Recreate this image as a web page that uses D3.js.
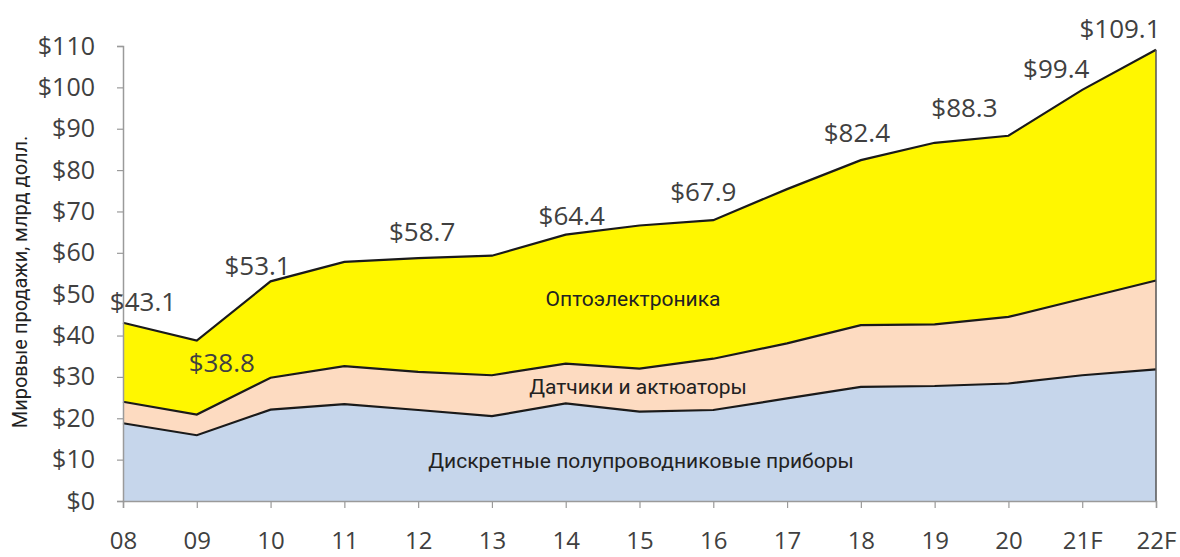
<!DOCTYPE html>
<html><head><meta charset="utf-8">
<script src="https://cdn.jsdelivr.net/npm/d3@7"></script>
<style>body{margin:0;background:#fff}svg{display:block}</style>
</head><body>
<svg id="c" width="1180" height="557"></svg>
<script>
const categories = ["08","09","10","11","12","13","14","15","16","17","18","19","20","21F","22F"];
const discrete = [18.8,15.9,22.1,23.4,22.0,20.5,23.6,21.6,22.0,24.8,27.6,27.8,28.4,30.4,31.8];
const sensors  = [5.2,5.0,7.7,9.2,9.2,9.9,9.6,10.4,12.4,13.3,14.9,14.9,16.1,18.5,21.5];
const totals   = [43.1,38.8,53.1,57.8,58.7,59.3,64.4,66.6,67.9,75.4,82.4,86.6,88.3,99.4,109.1];
const optoelectronics = totals.map((t,i)=>+(t - discrete[i] - sensors[i]).toFixed(1));
const labelledCategories = ["08","09","10","12","14","16","18","20","21F","22F"];
const yTicks = [0,10,20,30,40,50,60,70,80,90,100,110];
const seriesNames = ["Дискретные полупроводниковые приборы","Датчики и актюаторы","Оптоэлектроника"];
const yTitle = "Мировые продажи, млрд долл.";

const svg = d3.select("#c");
const L=123, R=1156, T=46, B=501;
const x = d3.scalePoint().domain(categories).range([L,R]);
const y = d3.scaleLinear().domain([0,110]).range([B,T]);

const rows = categories.map((c,i)=>({cat:c, d:discrete[i], s:sensors[i], o:optoelectronics[i]}));
const stack = d3.stack().keys(["d","s","o"])(rows);
const colors = ["#c6d6eb","#fddbc1","#fff700"];
const area = d3.area().x(p=>x(p.data.cat)).y0(p=>y(p[0])).y1(p=>y(p[1]));
const topLine = d3.line().x(p=>x(p.data.cat)).y(p=>y(p[1]));

svg.append("g").selectAll("path").data(stack).join("path")
  .attr("d",area).attr("fill",(d,i)=>colors[i]);
svg.append("g").selectAll("path").data(stack).join("path")
  .attr("d",topLine).attr("fill","none").attr("stroke","#1a1a1a").attr("stroke-width",2.2);
// right edge
svg.append("line").attr("x1",R).attr("x2",R).attr("y1",y(totals[totals.length-1])).attr("y2",B)
  .attr("stroke","#555").attr("stroke-width",1.5);

// axes
const yAxis = svg.append("g").attr("transform",`translate(${L},0)`)
  .call(d3.axisLeft(y).tickValues(yTicks).tickFormat(v=>"$"+v).tickSizeOuter(0).tickSize(6).tickPadding(22));
yAxis.select(".domain").attr("stroke","#9a9a9a").attr("stroke-width",1.5);
yAxis.selectAll(".tick line").attr("stroke","#9a9a9a").attr("stroke-width",1.2);
yAxis.selectAll("text").attr("font-family","Open Sans").attr("font-size",25).attr("fill","#404040");

const xAxis = svg.append("g").attr("transform",`translate(0,${B})`)
  .call(d3.axisBottom(x).tickSizeOuter(0).tickSize(7).tickPadding(24));
xAxis.select(".domain").attr("stroke","#9a9a9a").attr("stroke-width",1.5);
xAxis.selectAll(".tick line").attr("stroke","#9a9a9a").attr("stroke-width",1.2);
xAxis.selectAll("text").attr("font-family","Open Sans").attr("font-size",24).attr("fill","#404040");

// data labels
const labelOffsets = {"08":[20,-22],"09":[25,21],"10":[-13,-16],"12":[4,-27],"14":[6,-20],"16":[-10,-29],"18":[-4,-28],"20":[-44,-29],"21F":[-26,-22],"22F":[-36,-22]};
svg.append("g").selectAll("text").data(labelledCategories).join("text")
  .attr("x",c=>x(c)+labelOffsets[c][0])
  .attr("y",c=>y(totals[categories.indexOf(c)])+labelOffsets[c][1])
  .attr("text-anchor","middle").attr("dominant-baseline","central")
  .attr("font-family","Open Sans").attr("font-size",26).attr("fill","#404040")
  .text(c=>"$"+totals[categories.indexOf(c)].toFixed(1));

// series labels
const seriesLabelPos = [[641,461],[638,387],[633,299]];
svg.append("g").selectAll("text").data(seriesNames).join("text")
  .attr("x",(d,i)=>seriesLabelPos[i][0]).attr("y",(d,i)=>seriesLabelPos[i][1])
  .attr("text-anchor","middle").attr("dominant-baseline","central")
  .attr("font-family","Roboto").attr("font-size",21).attr("fill","#222")
  .text(d=>d);

svg.append("text").attr("transform","translate(20,282) rotate(-90)")
  .attr("text-anchor","middle").attr("dominant-baseline","central")
  .attr("font-family","Roboto").attr("font-size",20).attr("fill","#222").text(yTitle);
</script>
</body></html>
